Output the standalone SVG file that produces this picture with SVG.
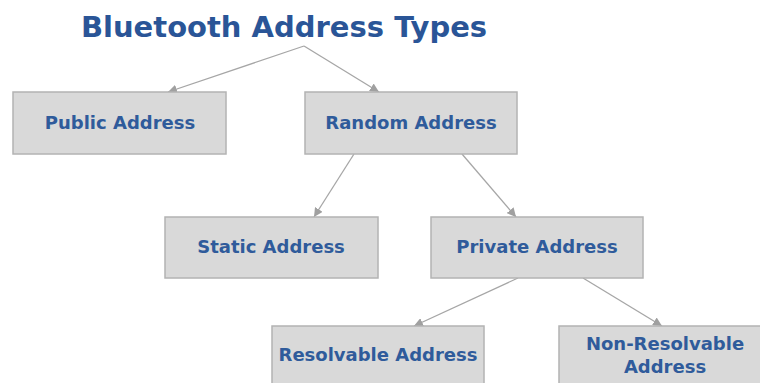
<svg xmlns="http://www.w3.org/2000/svg" width="760" height="383" viewBox="0 0 760 383">
<style>
.box{fill:#d9d9d9;stroke:#b3b3b3;stroke-width:1.5}
.lbl{font-family:"DejaVu Sans",sans-serif;font-weight:bold;font-size:18px;fill:#2f5b9b;text-anchor:middle}
.title{font-family:"DejaVu Sans",sans-serif;font-weight:bold;font-size:29px;fill:#2a5597;text-anchor:middle}
.con{stroke:#a6a6a6;stroke-width:1.3;fill:none;marker-end:url(#ah)}
</style>
<defs>
<marker id="ah" viewBox="0 0 10 10" refX="10" refY="5" markerWidth="9" markerHeight="9" markerUnits="userSpaceOnUse" orient="auto">
<path d="M0,0 L10,5 L0,10 z" fill="#a0a0a0"/>
</marker>
</defs>
<rect width="760" height="383" fill="#ffffff"/>
<g id="title"><text class="title" x="284" y="37">Bluetooth Address Types</text></g>
<g id="connectors">
<line class="con" x1="304" y1="46" x2="168" y2="92"/>
<line class="con" x1="304" y1="46" x2="379" y2="92"/>
<line class="con" x1="354" y1="154" x2="314" y2="217"/>
<line class="con" x1="462" y1="154" x2="516" y2="217"/>
<line class="con" x1="518" y1="278" x2="414" y2="326"/>
<line class="con" x1="583" y1="278" x2="662" y2="326"/>
</g>
<g id="public"><rect class="box" x="13" y="92" width="213" height="62"/><text class="lbl" x="120" y="129">Public Address</text></g>
<g id="random"><rect class="box" x="305" y="92" width="212" height="62"/><text class="lbl" x="411" y="129">Random Address</text></g>
<g id="static"><rect class="box" x="165" y="217" width="213" height="61"/><text class="lbl" x="271" y="253">Static Address</text></g>
<g id="private"><rect class="box" x="431" y="217" width="212" height="61"/><text class="lbl" x="537" y="253">Private Address</text></g>
<g id="resolvable"><rect class="box" x="272" y="326" width="212" height="62"/><text class="lbl" x="378" y="361">Resolvable Address</text></g>
<g id="nonresolvable"><rect class="box" x="559" y="326" width="212" height="62"/><text class="lbl" x="665" y="350">Non-Resolvable</text><text class="lbl" x="665" y="373">Address</text></g>
</svg>
